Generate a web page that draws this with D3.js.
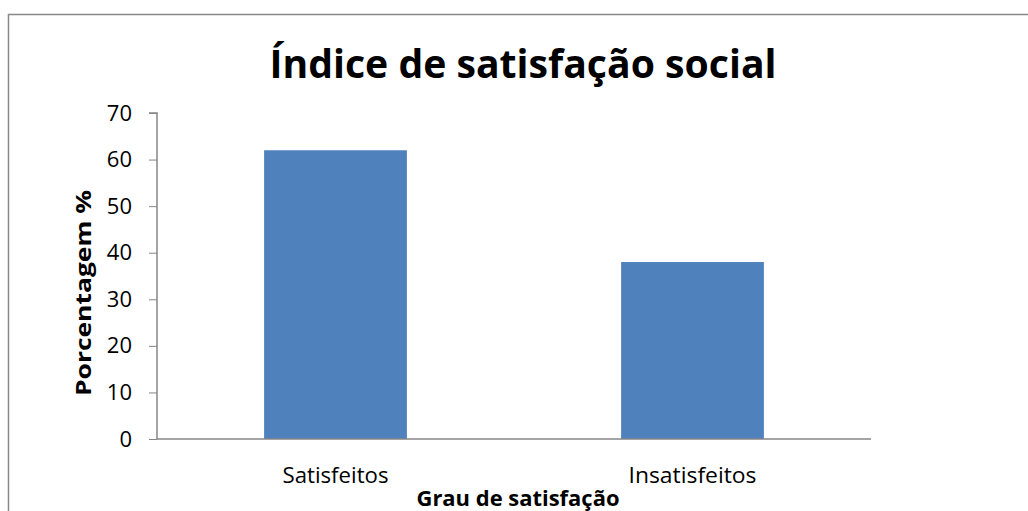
<!DOCTYPE html>
<html>
<head>
<meta charset="utf-8">
<script src="https://cdn.jsdelivr.net/npm/d3@7"></script>
<style>
  body { margin: 0; background: #fff; }
  svg { display: block; font-family: "Open Sans", Lato, sans-serif; }
  .axis path, .axis line { stroke: #868686; }
  .axis text { fill: #000; }
</style>
</head>
<body>
<div class="chart-container"></div>
<script>
var categories = ['Satisfeitos', 'Insatisfeitos'];
var values = [62, 38];
var yTicks = [0, 10, 20, 30, 40, 50, 60, 70];
var title = 'Índice de satisfação social';
var xTitle = 'Grau de satisfação';
var yTitle = 'Porcentagem %';

var W = 1028, H = 511;
var margin = {top: 113, right: 157, bottom: 72, left: 157};
var width = W - margin.left - margin.right;
var height = H - margin.top - margin.bottom;
var font = '"Open Sans", Lato, sans-serif';

var svg = d3.select('.chart-container').append('svg')
  .attr('width', W)
  .attr('height', H);

// chart frame (runs off the right and bottom edges)
svg.append('rect')
  .attr('x', 8.5).attr('y', 14.5)
  .attr('width', W + 10).attr('height', H + 10)
  .attr('fill', 'none')
  .attr('stroke', '#898989')
  .attr('stroke-width', 1.5);

var x = d3.scaleBand()
  .domain(categories)
  .range([margin.left, margin.left + width])
  .paddingInner(0.6)
  .paddingOuter(0.3);

var y = d3.scaleLinear()
  .domain([0, 70])
  .range([margin.top + height, margin.top]);

svg.selectAll('.bar')
  .data(categories)
  .enter().append('rect')
  .attr('class', 'bar')
  .attr('x', d => x(d))
  .attr('width', x.bandwidth())
  .attr('y', (d, i) => y(values[i]))
  .attr('height', (d, i) => y(0) - y(values[i]))
  .attr('fill', '#4f81bd');

var yAxis = d3.axisLeft(y)
  .tickValues(yTicks)
  .tickSize(8)
  .tickPadding(17);

svg.append('g')
  .attr('class', 'axis')
  .attr('transform', `translate(${margin.left},0)`)
  .call(yAxis)
  .attr('font-family', font)
  .attr('font-size', 22)
  .call(g => g.select('.domain').attr('d', `M-8,${y(70)}H0V${y(0)}`));

// measured label widths in the picture
var catWidths = [106, 128];

var xAxis = d3.axisBottom(x).tickSize(0).tickPadding(29);

svg.append('g')
  .attr('class', 'axis')
  .attr('transform', `translate(0,${margin.top + height})`)
  .call(xAxis)
  .attr('font-family', font)
  .attr('font-size', 21)
  .call(g => g.selectAll('text')
    .attr('textLength', (d, i) => catWidths[i])
    .attr('lengthAdjust', 'spacingAndGlyphs'))
  .call(g => g.select('.domain').attr('d', `M${margin.left},0H${margin.left + width}`));

svg.selectAll('.axis path').attr('stroke-width', 1.5);

// titles
svg.append('text')
  .text(title)
  .attr('x', 523)
  .attr('y', 78)
  .attr('text-anchor', 'middle')
  .attr('font-size', 39)
  .attr('font-weight', 'bold')
  .attr('textLength', 507)
  .attr('lengthAdjust', 'spacingAndGlyphs');

svg.append('text')
  .text(xTitle)
  .attr('x', 518)
  .attr('y', 506)
  .attr('text-anchor', 'middle')
  .attr('font-size', 21)
  .attr('font-weight', 'bold')
  .attr('textLength', 203)
  .attr('lengthAdjust', 'spacingAndGlyphs');

svg.append('text')
  .text(yTitle)
  .attr('transform', 'translate(91,293) rotate(-90)')
  .attr('text-anchor', 'middle')
  .attr('font-size', 22)
  .attr('font-weight', 'bold')
  .attr('textLength', 206)
  .attr('lengthAdjust', 'spacingAndGlyphs');
</script>
</body>
</html>
